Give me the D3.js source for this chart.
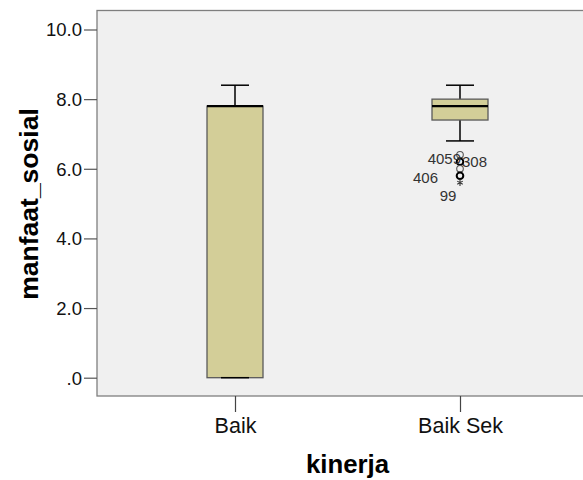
<!DOCTYPE html>
<html><head><meta charset="utf-8">
<script src="https://cdn.jsdelivr.net/npm/d3@7"></script>
<style>body{margin:0;background:#fff}svg{display:block}</style>
</head><body>
<svg id="c" width="583" height="480"></svg>
<script>
const categories = ["Baik", "Baik Sek"];
const whiskerMin = [0, 6.8];
const q1 = [0, 7.4];
const median = [7.8, 7.8];
const q3 = [7.8, 8.0];
const whiskerMax = [8.4, 8.4];
const outlierValues = [6.4, 6.2, 6.0, 5.8];
const outlierCounts = [1, 2, 1, 2];
const extremeValues = [5.6];
const caseLabels = ["4059", "308", "406", "99"];
const yTicks = [0, 2, 4, 6, 8, 10];
const xTitle = "kinerja", yTitle = "manfaat_sosial";

const svg = d3.select("#c");
const font = "'Liberation Sans', Arial, sans-serif";
const plotL = 97, plotT = 10.5, plotB = 396;
const y = d3.scaleLinear().domain([0, 10]).range([377.7, 29.5]);
const x = d3.scalePoint().domain(categories).range([235, 460]);
const boxW = 56, capW = 28;

svg.append("rect").attr("x", plotL).attr("y", plotT).attr("width", 600).attr("height", plotB - plotT)
  .attr("fill", "#f0f0f0").attr("stroke", "#7f7f7f").attr("stroke-width", 1.3);

// y axis
const yAxis = svg.append("g").attr("transform", `translate(${plotL},0)`)
  .call(d3.axisLeft(y).tickValues(yTicks).tickSize(13).tickPadding(2)
    .tickFormat(d => d === 0 ? ".0" : d3.format(".1f")(d)));
yAxis.select(".domain").remove();
yAxis.selectAll("line").attr("stroke", "#555").attr("stroke-width", 1.2);
yAxis.selectAll("text").attr("font-family", font).attr("font-size", 18.5).attr("fill", "#111").attr("dy", "0.35em");

// x axis
const xAxis = svg.append("g").attr("transform", `translate(0,${plotB})`)
  .call(d3.axisBottom(x).tickSize(16).tickPadding(6));
xAxis.select(".domain").remove();
xAxis.selectAll("line").attr("stroke", "#444").attr("stroke-width", 1.2);
xAxis.selectAll("text").attr("font-family", font).attr("font-size", 21.5).attr("fill", "#111");

// titles
svg.append("text").attr("x", (x("Baik") + x("Baik Sek")) / 2).attr("y", 473)
  .attr("text-anchor", "middle").attr("font-family", font).attr("font-weight", "bold")
  .attr("font-size", 25.8).attr("fill", "#000").text(xTitle);
svg.append("text").attr("transform", `translate(38,204) rotate(-90)`)
  .attr("text-anchor", "middle").attr("font-family", font).attr("font-weight", "bold")
  .attr("font-size", 26.5).attr("fill", "#000").text(yTitle);

// boxes
categories.forEach((c, i) => {
  const cx = x(c);
  const g = svg.append("g");
  g.append("line").attr("x1", cx).attr("x2", cx).attr("y1", y(q3[i])).attr("y2", y(whiskerMax[i]))
    .attr("stroke", "#000").attr("stroke-width", 1.5);
  g.append("line").attr("x1", cx).attr("x2", cx).attr("y1", y(q1[i])).attr("y2", y(whiskerMin[i]))
    .attr("stroke", "#000").attr("stroke-width", 1.5);
  g.append("line").attr("x1", cx - capW / 2).attr("x2", cx + capW / 2).attr("y1", y(whiskerMax[i])).attr("y2", y(whiskerMax[i]))
    .attr("stroke", "#000").attr("stroke-width", 1.5);
  g.append("rect").attr("x", cx - boxW / 2).attr("width", boxW)
    .attr("y", y(q3[i])).attr("height", y(q1[i]) - y(q3[i]))
    .attr("fill", "#d3ce98").attr("stroke", "#5a5a5a").attr("stroke-width", 1.3);
  g.append("line").attr("x1", cx - capW / 2).attr("x2", cx + capW / 2).attr("y1", y(whiskerMin[i])).attr("y2", y(whiskerMin[i]))
    .attr("stroke", "#000").attr("stroke-width", 1.5);
  g.append("line").attr("x1", cx - boxW / 2).attr("x2", cx + boxW / 2).attr("y1", y(median[i])).attr("y2", y(median[i]))
    .attr("stroke", "#000").attr("stroke-width", 2.4);
});

// outliers (Baik Sek)
const ox = x("Baik Sek");
outlierValues.forEach((v, i) => {
  svg.append("circle").attr("cx", ox).attr("cy", y(v)).attr("r", 3.3)
    .attr("fill", "none").attr("stroke", outlierCounts[i] > 1 ? "#000" : "#555")
    .attr("stroke-width", outlierCounts[i] > 1 ? 2 : 1.1);
});
extremeValues.forEach(v => {
  svg.append("path").attr("transform", `translate(${ox},${y(v)})`)
    .attr("d", d3.symbol(d3.symbolAsterisk, 28)()).attr("stroke", "#333").attr("stroke-width", 1.1).attr("fill", "none");
});
const lab = (t, xx, yy, anchor) => svg.append("text").attr("x", xx).attr("y", yy).attr("text-anchor", anchor)
  .attr("font-family", font).attr("font-size", 15).attr("fill", "#333").text(t);
lab(caseLabels[0], ox + 1, y(outlierValues[1]) + 2, "end");
lab(caseLabels[1], ox + 2, y(outlierValues[1]) + 5, "start");
lab(caseLabels[2], ox - 22, y(outlierValues[3]) + 7, "end");
lab(caseLabels[3], ox - 12, y(extremeValues[0]) + 18, "middle");
</script>
</body></html>
